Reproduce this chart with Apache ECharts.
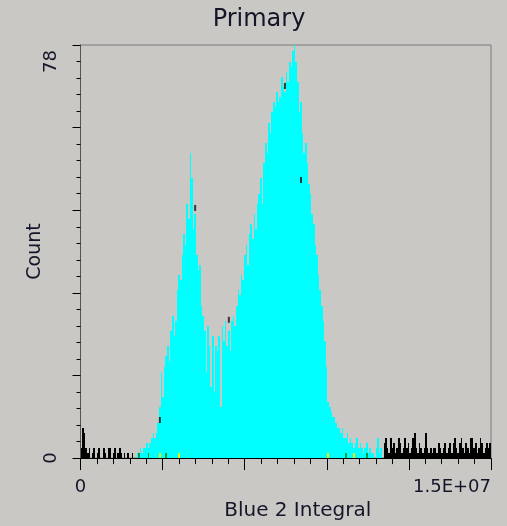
<!DOCTYPE html>
<html>
<head>
<meta charset="utf-8">
<title>Primary</title>
<script src="https://cdn.jsdelivr.net/npm/echarts@6/dist/echarts.min.js"></script>
<style>
  html, body { margin: 0; padding: 0; background: #cac8c4; }
  #chart { width: 507px; height: 526px; }
</style>
</head>
<body>
<div id="chart"></div>
<script>
// Histogram of "Blue 2 Integral": 256 channels spanning 0 .. 1.5E+07
const binCount = 256;
const xMax = 1.5e7;
const yTop = 81.25;           // plot ceiling in counts
const yLabelTicks = [0, 78];  // labelled count ticks
const xLabelTicks = [0, 1.5e7];

// Counts per channel
const counts = [
  2,6,5,2,1,2,0,1,2,0, 1,2,0,0,2,1,0,2,2,0, 1,2,0,1,2,1,0,1,0,1, 0,0,1,0,0,
  1,1,2,1,2,2,3,2,
  3,4,5,4,5,
  7,10,17,12,18,
  20,22,19,25,28,24,
  27,33,36,35,
  40,44,42,50,47,60,55,
  45,48,40,37,38,30,
  28,25,17,26,22,14,24,13,22,21, 24,10,26,23,27,22,25,21,27,28, 26,30,33,32,36,35,40,
  42,38,44,46,43,48,45,50,
  52,55,50,58,62,60,66,64,68,70,
  69,72,70,71,75,73,72,76,74,78,77,80,
  84,
  78,74,68,70,64,60,62,58,54,52, 48,46,42,40,36,33,30,27,23,18,
  11,10,9,8,8,7,6,6,5,6, 4,4,5,3,4,3,2,3,4,2, 3,2,1,2,3,1,2,1,1,0, 2,4,1,2,0,
  3,4,2,1,4,2,3,1,2,4, 3,1,2,4,2,3,1,2,4,5, 2,1,3,2,1,2,5,2,1,2,
  1,2,2,1,3,2,1,2,3,1, 2,3,1,3,4,2,1,3,4,2, 1,3,2,1,4,4,2,3,1,2,
  4,3,1,2,3,2,3
];

// Gated channel range (drawn in cyan), everything else in black
const gateFirst = 35;
const gateLast = 188;

// Small one-count events of other populations near the baseline
const yellowBins = [49, 61, 154, 170];
const greenBins = [36, 42, 53, 165, 178];
const smallEventCount = 1;

// Short black overlay marks sitting above the histogram
const markBins = [49, 71, 92, 127, 137];
const markCounts = [7.5, 49.2, 27.2, 73.2, 54.7];

const CYAN = '#00ffff';
const BLACK = '#000000';

const inGate = i => i >= gateFirst && i <= gateLast;
const categories = counts.map((_, i) => i);
const gatedData = counts.map((c, i) => [i, c]).filter(d => inGate(d[0]));
const ungatedData = counts.map((c, i) => [i, c]).filter(d => !inGate(d[0]));

// Pixel-snapped histogram bar: each channel fills its whole band on the category axis
function renderChannel(params, api) {
  const i = api.value(0);
  const v = api.value(1);
  const base = api.coord([i, 0]);
  const top = api.coord([i, v]);
  const band = api.size([1, 0])[0];
  const cs = params.coordSys;
  const x0 = Math.round(base[0] - band / 2);
  const x1 = Math.round(base[0] + band / 2);
  const yb = Math.round(base[1]);
  const yt = Math.max(Math.round(top[1]), cs.y);
  if (yb - yt <= 0) return null;
  return {
    type: 'rect',
    shape: { x: x0, y: yt, width: x1 - x0, height: yb - yt },
    style: { fill: api.visual('color') }
  };
}

function channelSeries(name, data, color) {
  return {
    name,
    type: 'custom',
    xAxisIndex: 0, yAxisIndex: 0,
    renderItem: renderChannel,
    encode: { x: 0, y: 1 },
    data,
    itemStyle: { color },
    silent: true
  };
}

const FONT = 'DejaVu Sans';

const chart = echarts.init(document.getElementById('chart'), null, { renderer: 'canvas' });

const tickStyle = { color: '#000', width: 1 };

chart.setOption({
  backgroundColor: '#cac8c4',
  animation: false,
  title: {
    text: 'Primary',
    left: 254,
    top: 3,
    textAlign: 'center',
    textStyle: { fontFamily: FONT, fontSize: 24, fontWeight: 'normal', color: '#15152a' }
  },
  grid: {
    left: 80.5, right: 16, top: 45, bottom: 63,
    show: true, borderColor: '#7a7a7a', borderWidth: 1, backgroundColor: 'transparent'
  },
  xAxis: [
    {
      type: 'category',
      data: categories,
      show: false,
      position: 'bottom',
      boundaryGap: true
    },
    {
      // ticks, labels and title
      type: 'value',
      position: 'bottom',
      min: 0, max: xMax, interval: 3e6,
      name: 'Blue 2 Integral',
      nameLocation: 'middle',
      nameGap: 34,
      nameTextStyle: { fontFamily: FONT, fontSize: 20, color: '#15152a', padding: [0, 0, 0, 24] },
      axisLine: { show: true, lineStyle: { color: '#000', width: 1 } },
      axisTick: { show: true, length: 12, lineStyle: tickStyle },
      minorTick: { show: true, splitNumber: 5, length: 6, lineStyle: tickStyle },
      splitLine: { show: false },
      axisLabel: {
        margin: 20,
        fontFamily: FONT, fontSize: 18, color: '#15152a',
        alignMaxLabel: 'right',
        formatter: v => (xLabelTicks[0] === v ? '0' : (Math.abs(v - xLabelTicks[1]) < 1 ? '1.5E+07' : ''))
      }
    }
  ],
  yAxis: [
    {
      type: 'value',
      position: 'left',
      min: 0, max: yTop, interval: 16.25,
      name: 'Count',
      nameLocation: 'middle',
      nameGap: 36,
      nameRotate: 90,
      nameTextStyle: { fontFamily: FONT, fontSize: 19, color: '#15152a' },
      axisLine: { show: true, lineStyle: { color: '#555', width: 1 } },
      axisTick: { show: true, length: 8, lineStyle: tickStyle },
      minorTick: { show: true, splitNumber: 5, length: 4, lineStyle: tickStyle },
      splitLine: { show: false },
      axisLabel: { show: false }
    },
    {
      type: 'value',
      position: 'left',
      min: 0, max: yTop, interval: 3.25,
      axisLine: { show: false },
      axisTick: { show: false },
      splitLine: { show: false },
      axisLabel: {
        rotate: 90,
        margin: 20,
        fontFamily: FONT, fontSize: 18, color: '#15152a',
        formatter: v => (yLabelTicks.some(t => Math.abs(t - v) < 1e-6) ? String(Math.round(v)) : '')
      }
    }
  ],
  series: [
    channelSeries('Ungated', ungatedData, BLACK),
    channelSeries('Gated', gatedData, CYAN),
    channelSeries('yellow', yellowBins.map(b => [b, smallEventCount]), '#f0f000'),
    channelSeries('green', greenBins.map(b => [b, smallEventCount]), '#00a040'),
    {
      name: 'marks',
      type: 'scatter',
      xAxisIndex: 0, yAxisIndex: 0,
      symbol: 'rect',
      symbolSize: [2, 6],
      data: markBins.map((b, i) => [b, markCounts[i]]),
      itemStyle: { color: '#111' },
      silent: true
    }
  ]
});
</script>
</body>
</html>
